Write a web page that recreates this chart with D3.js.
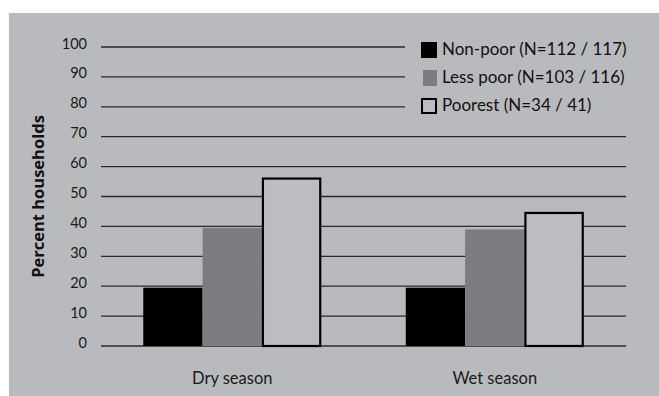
<!DOCTYPE html>
<html><head><meta charset="utf-8">
<script src="https://cdn.jsdelivr.net/npm/d3@7"></script>
<style>body{margin:0;background:#fff}svg{display:block}text{font-family:Lato,"Open Sans",sans-serif}</style>
</head><body><svg id="c" width="659" height="396"></svg>
<script>
const categories = ["Dry season", "Wet season"];
const seriesNames = ["Non-poor (N=112 / 117)", "Less poor (N=103 / 116)", "Poorest (N=34 / 41)"];
const nonPoor = [19.5, 19.5];
const lessPoor = [39.5, 39];
const poorest = [56, 44.5];
const yTicks = [0, 10, 20, 30, 40, 50, 60, 70, 80, 90, 100];
const yTitle = "Percent households";

const series = [nonPoor, lessPoor, poorest];
const fills = ["#000000", "#7c7d81", "#bcbdc0"];
const bg = "#b9babd";

const svg = d3.select("#c");
svg.append("rect").attr("x", 9).attr("y", 13).attr("width", 650).attr("height", 383).attr("fill", bg);

const y = d3.scaleLinear().domain([0, 100]).range([346, 47]);
const x0 = d3.scaleBand().domain(categories).range([101, 626]).paddingInner(0.322).paddingOuter(0.161);
const x1 = d3.scaleBand().domain(d3.range(series.length)).range([0, x0.bandwidth()]);

// gridlines
const legendLeft = 405;
svg.append("g").selectAll("line").data(yTicks).join("line")
  .attr("x1", 101).attr("x2", d => d >= 80 ? legendLeft : 626)
  .attr("y1", d => y(d)).attr("y2", d => y(d))
  .attr("stroke", "#2a2a2a").attr("stroke-width", 1.3);

// tick labels
svg.append("g").selectAll("text").data(yTicks).join("text")
  .attr("x", 87).attr("y", d => y(d) + 1.5)
  .attr("text-anchor", "end").attr("font-size", 14.5).attr("fill", "#1a1a1a")
  .text(d => d);

// bars
categories.forEach((c, ci) => {
  series.forEach((s, si) => {
    const isOutline = si === 2;
    const bx = x0(c) + x1(si);
    const bw = x1.bandwidth();
    svg.append("rect")
      .attr("x", isOutline ? bx + 1 : bx)
      .attr("y", y(s[ci]))
      .attr("width", isOutline ? bw - 2 : bw)
      .attr("height", y(0) - y(s[ci]))
      .attr("fill", fills[si])
      .attr("stroke", isOutline ? "#000" : "none")
      .attr("stroke-width", isOutline ? 2.2 : 0);
  });
});

// category labels
svg.append("g").selectAll("text").data(categories).join("text")
  .attr("x", d => x0(d) + x0.bandwidth() / 2).attr("y", 384)
  .attr("text-anchor", "middle").attr("font-size", 16.5).attr("fill", "#1a1a1a")
  .text(d => d);

// y title
svg.append("text")
  .attr("transform", `translate(44,${y(50)}) rotate(-90)`)
  .attr("text-anchor", "middle").attr("font-size", 16.5).attr("font-weight", "bold")
  .style("font-family", "'Open Sans', sans-serif").attr("fill", "#111")
  .text(yTitle);

// legend
const lg = svg.append("g");
seriesNames.forEach((name, i) => {
  const top = 42 + i * 28;
  if (i === 2) {
    lg.append("rect").attr("x", 422).attr("y", top + 1).attr("width", 14).attr("height", 14)
      .attr("fill", fills[2]).attr("stroke", "#000").attr("stroke-width", 2);
  } else if (i === 1) {
    lg.append("rect").attr("x", 423).attr("y", top).attr("width", 14).attr("height", 16).attr("fill", fills[1]);
  } else {
    lg.append("rect").attr("x", 421).attr("y", top).attr("width", 16).attr("height", 16).attr("fill", fills[0]);
  }
  lg.append("text").attr("x", 442).attr("y", top + 13).attr("font-size", 17).attr("fill", "#111").text(name);
});
</script></body></html>
